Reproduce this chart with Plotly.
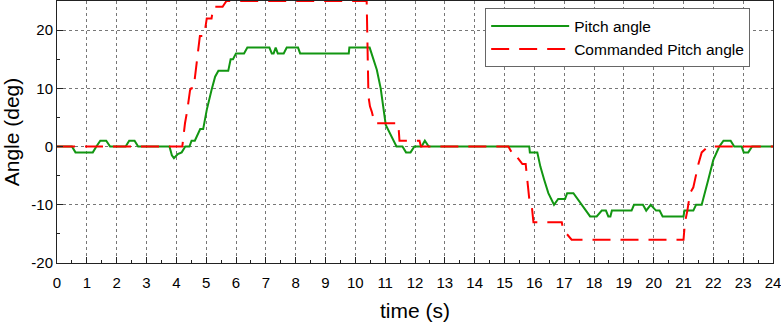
import plotly.graph_objects as go

pitch_time = [0, 0.5, 0.62, 1.2, 1.32, 1.45, 1.65, 1.78, 2.3, 2.42, 2.6, 2.72, 3.77, 3.85, 3.92, 4.05, 4.18,
              4.3, 4.44, 4.51, 4.62, 4.72, 4.8, 4.9, 5.02, 5.18, 5.3, 5.41, 5.74, 5.82, 5.9, 6.0, 6.27, 6.38,
              7.12, 7.2, 7.26, 7.33, 7.4, 7.6, 7.7, 8.08, 8.15, 9.78, 9.8, 10.48, 10.62, 10.72, 10.85, 10.96,
              11.02, 11.38, 11.58, 11.7, 11.85, 11.98, 12.22, 12.33, 12.46, 15.83, 15.85, 16.1, 16.2, 16.33,
              16.47, 16.66, 16.8, 17.03, 17.1, 17.31, 17.45, 17.62, 17.87, 18.09, 18.26, 18.4, 18.48, 18.55,
              18.6, 19.26, 19.34, 19.64, 19.75, 19.9, 20.08, 20.2, 20.3, 21.0, 21.03, 21.33, 21.42, 21.61,
              21.72, 21.83, 22.0, 22.2, 22.34, 22.58, 22.7, 22.95, 23.02, 23.17, 23.3, 24]
pitch_deg = [0, 0, -1, -1, 0, 1, 1, 0, 0, 1, 1, 0, 0, -1.5, -2, -1.3, -1,
             0, 0, 1, 1, 2, 3, 3, 6.3, 9.7, 12, 13, 13, 15, 15, 16, 16, 17,
             17, 16, 16, 17, 16, 16, 17, 17, 16, 16, 17, 17, 15, 13.2, 10, 6.3,
             3.7, 0, 0, -1, -1, 0, 0, 1, 0, 0, -1, -1, -3.4, -5.7,
             -8, -10, -9, -9, -8, -8, -9, -10, -12, -12, -11, -11, -12, -12,
             -11, -11, -10, -10, -11, -10, -11, -11, -12, -12, -11, -11, -10, -10,
             -8, -5.7, -2.3, 0, 1, 1, 0, 0, -1, -1, 0, 0]

cmd_time = [0, 4.2, 4.29, 4.36, 4.46, 4.5, 4.58, 4.68, 4.79, 4.93, 5.02, 5.18, 5.24, 5.55, 5.68,
            10.38, 10.4, 10.42, 10.44, 10.49, 10.55, 10.65, 11.44, 11.48, 12.15, 12.2,
            15.13, 15.24, 15.35, 15.45, 15.6, 15.71, 15.83, 15.91, 15.97, 16.92, 16.97, 17.25,
            21.0, 21.05, 21.13, 21.22, 21.33, 21.5, 21.61, 21.83, 24]
cmd_deg = [0, 0, 4, 6, 9.7, 10, 10, 14, 19, 19, 22, 22, 24, 24, 25,
           25, 20, 11.8, 8.6, 6.9, 6, 4, 4, 1, 1, 0,
           0, -1, -1, -2, -3, -3, -9, -10, -13, -13, -14.3, -16,
           -16, -13, -11, -8, -7, -3, -1, 0, 0]

x_ticks = list(range(0, 25))
y_ticks = [-20, -10, 0, 10, 20]

FONT = "Liberation Sans, Arial, sans-serif"

fig = go.Figure()
fig.add_trace(go.Scatter(x=pitch_time, y=pitch_deg, mode="lines", name="Pitch angle",
                         line=dict(color="#129612", width=2)))
fig.add_trace(go.Scatter(x=cmd_time, y=cmd_deg, mode="lines", name="Commanded Pitch angle",
                         line=dict(color="#ff0000", width=2, dash="18px,10px")))

axis_common = dict(
    showline=True, linecolor="#222", linewidth=1, mirror=True,
    showgrid=True, gridcolor="#777", griddash="dot", gridwidth=1,
    zeroline=False, ticks="inside", ticklen=6, tickcolor="#222",
    tickfont=dict(family=FONT, size=15, color="#000"),
    ticklabeloverflow="allow",
)
fig.update_xaxes(range=[0, 24], tickvals=x_ticks, ticktext=[str(v) for v in x_ticks],
                 minor=dict(ticks="inside", ticklen=3, dtick=0.5, tick0=0, tickcolor="#222", showgrid=False),
                 ticklabelstandoff=6,
                 title=dict(text="time (s)", font=dict(family=FONT, size=21, color="#000"), standoff=13),
                 **axis_common)
fig.update_yaxes(range=[-20, 25], tickvals=y_ticks, ticktext=[str(v) for v in y_ticks],
                 minor=dict(ticks="inside", ticklen=3, dtick=5, tick0=0, tickcolor="#222", showgrid=False),
                 title=dict(text="Angle (deg)", font=dict(family=FONT, size=21, color="#000"), standoff=8),
                 **axis_common)

fig.update_layout(
    width=781, height=324,
    margin=dict(l=57, r=8, t=1, b=61),
    paper_bgcolor="white", plot_bgcolor="white",
    legend=dict(x=0.598, y=0.972, xanchor="left", yanchor="top",
                bgcolor="white", bordercolor="#666", borderwidth=1,
                font=dict(family=FONT, size=15.5, color="#000"),
                itemwidth=78, tracegroupgap=0),
    showlegend=True,
)

fig.write_html("out.html")
